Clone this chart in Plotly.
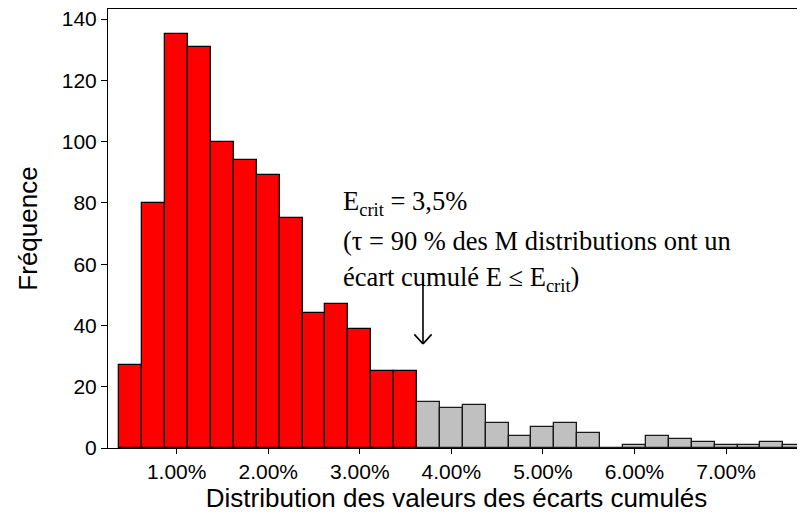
import plotly.graph_objects as go

# bin centres (in %) and counts, bin width 0.25 %
red_bins = [0.50, 0.75, 1.00, 1.25, 1.50, 1.75, 2.00, 2.25, 2.50, 2.75, 3.00, 3.25, 3.50]
red_counts = [27, 80, 135, 131, 100, 94, 89, 75, 44, 47, 39, 25, 25]
grey_bins = [3.75, 4.00, 4.25, 4.50, 4.75, 5.00, 5.25, 5.50, 5.75, 6.00, 6.25, 6.50, 6.75, 7.00, 7.25, 7.50, 7.75]
grey_counts = [15, 13, 14, 8, 4, 7, 8, 5, 0, 1, 4, 3, 2, 1, 1, 2, 1]
bin_width = 0.25

x_ticks = [1, 2, 3, 4, 5, 6, 7]
x_labels = [f"{v:.2f}%" for v in x_ticks]
y_ticks = [0, 20, 40, 60, 80, 100, 120, 140]

# arrow position (critical value marker)
arrow_x = 3.69
arrow_tip = 34
arrow_tail = 55

sans = "Arial, Liberation Sans, sans-serif"
serif = "Times New Roman, Liberation Serif, serif"

fig = go.Figure()

fig.add_trace(go.Bar(
    x=red_bins, y=red_counts, width=bin_width,
    marker=dict(color="#ff0000", line=dict(color="#000000", width=1.3)),
    showlegend=False,
))
fig.add_trace(go.Bar(
    x=grey_bins, y=grey_counts, width=bin_width,
    marker=dict(color="#c0c0c0", line=dict(color="#1a1a1a", width=1.3)),
    showlegend=False,
))

# annotation text, one line per annotation (placed in plot-area fractions)
lines = [
    "E<sub>crit</sub> = 3,5%",
    "(\u03c4 = 90 % des M distributions ont un",
    "\u00e9cart cumul\u00e9 E \u2264 E<sub>crit</sub>)",
]
for i, txt in enumerate(lines):
    fig.add_annotation(
        x=(341 - 108) / 697, y=(448 - (203 + 38 * i)) / 439,
        xref="paper", yref="paper",
        text=txt, showarrow=False,
        xanchor="left", yanchor="middle",
        font=dict(family=serif, size=26.5, color="black"),
    )

# arrow: shaft plus two thin arms (open V head)
fig.add_annotation(
    x=arrow_x, y=arrow_tip, ax=arrow_x, ay=arrow_tail,
    xref="x", yref="y", axref="x", ayref="y",
    text="", showarrow=True, arrowhead=0, arrowwidth=1.6, arrowcolor="black",
)
for dx in (-10, 10):
    fig.add_annotation(
        x=arrow_x, y=arrow_tip, ax=dx, ay=-11,
        xref="x", yref="y",
        text="", showarrow=True, arrowhead=0, arrowwidth=1.6, arrowcolor="black",
        standoff=0, startstandoff=0,
    )

fig.update_xaxes(
    range=[0.25, 7.862], automargin=False,
    tickvals=x_ticks, ticktext=x_labels,
    ticks="outside", ticklen=5, tickwidth=1, tickcolor="black",
    showline=True, linecolor="black", linewidth=1, mirror=True,
    showgrid=False, zeroline=False,
    tickfont=dict(family=sans, size=21, color="black"),
    title=dict(text="Distribution des valeurs des \u00e9carts cumul\u00e9s",
               font=dict(family=sans, size=26, color="black"), standoff=0),
)
fig.update_yaxes(
    range=[0, 143.3], automargin=False,
    tickvals=y_ticks, ticklabeloverflow="allow",
    ticks="outside", ticklen=6, tickwidth=1, tickcolor="black",
    showline=True, linecolor="black", linewidth=1,
    showgrid=False, zeroline=False,
    tickfont=dict(family=sans, size=21, color="black"),
    title=dict(text="Fr\u00e9quence", font=dict(family=sans, size=26, color="black"), standoff=16),
)

# the page body adds an 8 px offset, so the figure is trimmed to fit the window
fig.update_layout(
    width=797, height=509,
    margin=dict(l=100, r=0, t=1, b=69),
    paper_bgcolor="white", plot_bgcolor="white",
    bargap=0, barmode="overlay",
)

fig.write_html("out.html")
